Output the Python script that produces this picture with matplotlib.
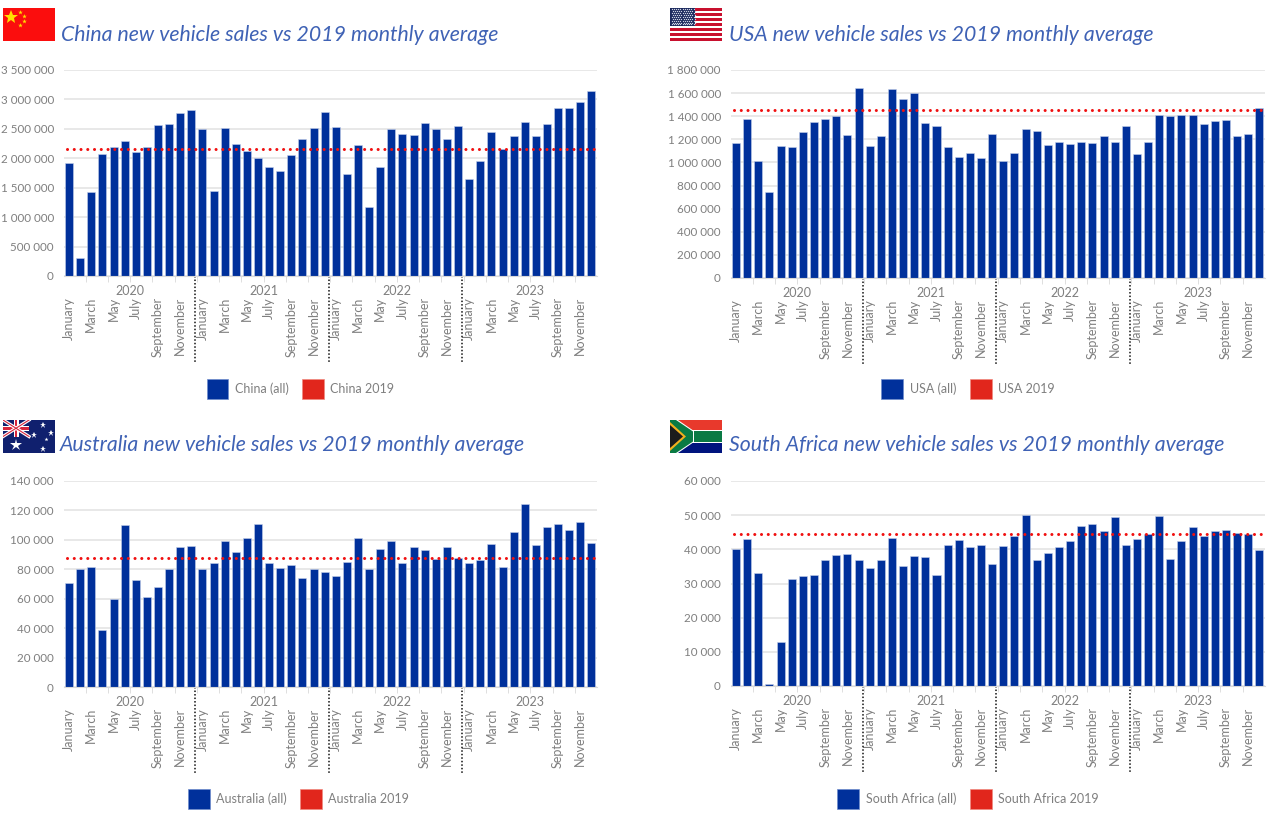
import numpy as np
import matplotlib
matplotlib.use("Agg")
import matplotlib.pyplot as plt
from matplotlib.patches import Patch, Polygon, Rectangle
from matplotlib.transforms import blended_transform_factory

W, H = 1280, 823
BLUE = "#00309b"
RED = "#e1261c"
GREY = "#7f7f7f"
TITLE_COL = "#3f62b5"

plt.rcParams["font.family"] = ["Lato", "DejaVu Sans"]

months = ["January", "February", "March", "April", "May", "June", "July",
          "August", "September", "October", "November", "December"]
years = ["2020", "2021", "2022", "2023"]

china = [1920000, 310000, 1430000, 2070000, 2190000, 2300000, 2110000, 2190000, 2560000, 2580000, 2770000, 2820000,
         2500000, 1450000, 2520000, 2250000, 2130000, 2000000, 1860000, 1790000, 2060000, 2320000, 2520000, 2790000,
         2530000, 1740000, 2230000, 1170000, 1860000, 2500000, 2420000, 2390000, 2600000, 2500000, 2320000, 2550000,
         1640000, 1960000, 2450000, 2150000, 2380000, 2620000, 2380000, 2580000, 2860000, 2860000, 2960000, 3140000]
usa = [1170000, 1380000, 1015000, 740000, 1140000, 1130000, 1260000, 1350000, 1380000, 1400000, 1235000, 1645000,
       1140000, 1225000, 1635000, 1550000, 1605000, 1340000, 1315000, 1130000, 1050000, 1085000, 1040000, 1245000,
       1015000, 1085000, 1290000, 1270000, 1155000, 1180000, 1160000, 1180000, 1170000, 1225000, 1180000, 1315000,
       1070000, 1180000, 1410000, 1400000, 1410000, 1410000, 1330000, 1360000, 1370000, 1225000, 1250000, 1475000]
australia = [71000, 80000, 81500, 38500, 59500, 110000, 72500, 61000, 68000, 80500, 95000, 96000,
             80000, 84000, 99500, 92000, 101000, 111000, 84000, 81000, 83000, 74000, 80000, 78000,
             75500, 85000, 101000, 80500, 93500, 99500, 84500, 95000, 93000, 87000, 95000, 87500,
             84500, 86500, 97500, 81500, 105500, 124500, 96500, 109000, 111000, 106500, 112000, 98000]
south_africa = [40000, 43000, 33000, 600, 12800, 31300, 32200, 32600, 36800, 38400, 38700, 36800,
                34500, 36800, 43300, 35200, 38100, 37800, 32600, 41300, 42600, 40700, 41300, 35600,
                41000, 44000, 50000, 36800, 38800, 40700, 42300, 46800, 47500, 45500, 49500, 41300,
                43000, 44500, 49700, 37300, 42500, 46500, 44000, 45500, 45800, 44800, 44500, 39800]

avg_2019 = [2150000, 1450000, 88000, 44500]
y_steps = [500000, 200000, 20000, 10000]
y_tops = [3500000, 1800000, 140000, 60000]
names = ["China", "USA", "Australia", "South Africa"]


def px_axes(fig, x0, y0, x1, y1, **kw):
    # pixel box, y counted from the top like in the picture
    return fig.add_axes([x0 / W, 1 - y1 / H, (x1 - x0) / W, (y1 - y0) / H], **kw)


def space_fmt(v, pos=None):
    return f"{int(v):,}".replace(",", " ")


def draw_panel(fig, box, name, values, avg, step, top, title_x, title_y, legend_x, legend_y):
    ax = px_axes(fig, *box)
    x = np.arange(len(values))
    ax.bar(x, values, width=0.72, color=BLUE, edgecolor="#c5d0ea", linewidth=0.4, zorder=2)
    ax.plot([-0.15, 47.4], [avg, avg], color="#f01010", linestyle=(0, (0.01, 2.2)), linewidth=2.2,
            zorder=3, dash_capstyle="round")
    ax.set_xlim(-0.5, 47.5)
    ax.set_ylim(0, top)
    ax.set_yticks(np.arange(0, top + 1, step))
    ax.yaxis.set_major_formatter(space_fmt)
    ax.grid(axis="y", color="#e2e2e2", linewidth=1.1, zorder=0)
    ax.set_axisbelow(True)
    for s in ax.spines.values():
        s.set_visible(False)
    ax.spines["bottom"].set_visible(True)
    ax.spines["bottom"].set_color("#d9d9d9")
    ax.tick_params(axis="y", length=0, labelsize=8.4, labelcolor=GREY, pad=7)

    # month names on every second bar, tick marks in between
    ax.set_xticks(x[::2])
    ax.set_xticklabels([months[i % 12] for i in x[::2]], rotation=90, ha="center", va="top")
    ax.tick_params(axis="x", which="major", length=0, labelsize=9.0, labelcolor=GREY, pad=15)
    ax.set_xticks(np.arange(1.5, 47, 2), minor=True)
    ax.tick_params(axis="x", which="minor", length=4.5, color="#d9d9d9")

    tr = blended_transform_factory(ax.transData, ax.transAxes)
    h = box[3] - box[1]
    for i, yr in enumerate(years):
        ax.text(5.5 + 12 * i, -15 / h, yr, transform=tr, ha="center", va="center",
                fontsize=9.0, color=GREY)
    for i in (11.36, 23.36, 35.36):
        ax.plot([i, i], [0, -86 / h], transform=tr, color="#111111", linewidth=1.1,
                linestyle=(0, (1, 1.3)), clip_on=False)

    fig.text(title_x / W, 1 - title_y / H, f"{name} new vehicle sales vs 2019 monthly average",
             fontsize=15.3, style="italic", color=TITLE_COL, va="center", ha="left")

    handles = [Patch(facecolor=BLUE, edgecolor="#6f8ccc", linewidth=0.5),
               Patch(facecolor=RED, edgecolor="#f08a80", linewidth=0.5)]
    fig.legend(handles, [f"{name} (all)", f"{name} 2019"], loc="center", ncol=2,
               bbox_to_anchor=(legend_x / W, 1 - legend_y / H), frameon=False,
               fontsize=9.0, labelcolor=GREY, handlelength=1.75, handleheight=2.0,
               handletextpad=0.5, columnspacing=1.1, borderpad=0)
    return ax


def flag_axes(fig, x0, y0):
    fa = px_axes(fig, x0, y0, x0 + 52, y0 + 33)
    fa.set_xlim(0, 52)
    fa.set_ylim(33, 0)
    fa.axis("off")
    return fa


def flag_china(fa):
    fa.add_patch(Rectangle((0, 0), 52, 33, color="#fb0d0d"))
    fa.plot([8], [9], marker="*", markersize=10, color="#ffe000", mew=0)
    for px, py in [(17, 4), (21, 8), (21, 13), (17, 17)]:
        fa.plot([px], [py], marker="*", markersize=3.5, color="#ffe000", mew=0)


def flag_usa(fa):
    for i in range(13):
        fa.add_patch(Rectangle((0, i * 33 / 13), 52, 33 / 13, lw=0,
                               color="#c8102e" if i % 2 == 0 else "white"))
    fa.add_patch(Rectangle((0, 0), 25, 18, color="#1c2a5e", lw=0))
    for i in range(9):
        xs = np.arange(1.5 + (i % 2), 25, 2.2)
        fa.scatter(xs, np.full(len(xs), 1.2 + i * 1.9), s=0.9, color="#cfd4e6", lw=0)


def flag_australia(fa):
    fa.add_patch(Rectangle((0, 0), 52, 33, color="#10206e"))
    fa.plot([0, 26], [0, 16.5], color="white", lw=2.4)
    fa.plot([0, 26], [16.5, 0], color="white", lw=2.4)
    fa.plot([0, 26], [0, 16.5], color="#d8243c", lw=0.8)
    fa.plot([0, 26], [16.5, 0], color="#d8243c", lw=0.8)
    fa.add_patch(Rectangle((0, 5.5), 26, 5.5, color="white", lw=0))
    fa.add_patch(Rectangle((10.5, 0), 5, 16.5, color="white", lw=0))
    fa.add_patch(Rectangle((0, 6.8), 26, 3, color="#d8243c", lw=0))
    fa.add_patch(Rectangle((11.8, 0), 2.6, 16.5, color="#d8243c", lw=0))
    fa.plot([13], [25], marker="*", markersize=9, color="white", mew=0)
    for px, py in [(40, 5), (31, 15), (48, 13), (40, 29)]:
        fa.plot([px], [py], marker="*", markersize=5, color="white", mew=0)
    fa.plot([43], [18.5], marker="*", markersize=3, color="white", mew=0)


def flag_south_africa(fa):
    fa.add_patch(Rectangle((0, 0), 52, 11, color="#e8392c", lw=0))
    fa.add_patch(Rectangle((0, 22), 52, 11, color="#00147e", lw=0))
    fa.add_patch(Rectangle((0, 11), 52, 11, color="#0a7a44", lw=0))
    fa.add_patch(Rectangle((20, 10), 32, 1.3, color="white", lw=0))
    fa.add_patch(Rectangle((20, 21.7), 32, 1.3, color="white", lw=0))
    fa.add_patch(Polygon([(0, 0), (8, 0), (24, 11), (24, 22), (8, 33), (0, 33)], color="white", lw=0))
    fa.add_patch(Polygon([(0, 0), (6, 0), (23, 11.5), (23, 21.5), (6, 33), (0, 33)], color="#0a7a44", lw=0))
    fa.add_patch(Polygon([(0, 2), (16, 16.5), (0, 31)], color="#f2b01e", lw=0))
    fa.add_patch(Polygon([(0, 5), (13, 16.5), (0, 28)], color="#1c1c1c", lw=0))


fig = plt.figure(figsize=(W / 100, H / 100), dpi=100, facecolor="white")

draw_panel(fig, (63.5, 70, 597, 276), names[0], china, avg_2019[0], y_steps[0], y_tops[0], 61, 35, 300.5, 389)
draw_panel(fig, (730.5, 70, 1265, 278), names[1], usa, avg_2019[1], y_steps[1], y_tops[1], 729, 35, 968, 389)
draw_panel(fig, (63.5, 481, 597, 687), names[2], australia, avg_2019[2], y_steps[2], y_tops[2], 60, 445, 298.5, 799)
draw_panel(fig, (730.5, 481, 1265, 686), names[3], south_africa, avg_2019[3], y_steps[3], y_tops[3], 729, 445, 968, 799)

flag_china(flag_axes(fig, 3, 8))
flag_usa(flag_axes(fig, 670, 8))
flag_australia(flag_axes(fig, 3, 420))
flag_south_africa(flag_axes(fig, 670, 420))

fig.savefig("out.png", dpi=100)
